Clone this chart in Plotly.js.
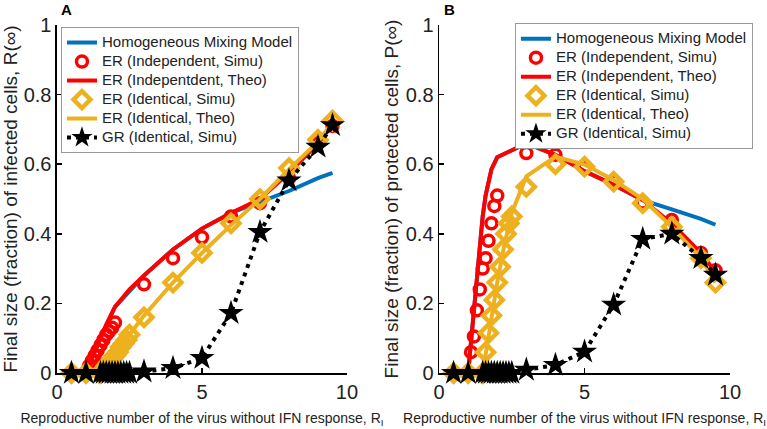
<!DOCTYPE html>
<html>
<head>
<meta charset="utf-8">
<script src="https://cdn.plot.ly/plotly-3.0.1.min.js"></script>
<style>html,body{margin:0;padding:0;background:#fff;}#chart{width:767px;height:429px;}</style>
</head>
<body>
<div id="chart"></div>
<script>
// ---------- Panel A: infected cells R(inf) ----------
const homA_x = [1.0, 1.5, 2.0, 3, 4, 5, 6, 7, 8, 9, 9.5];
const homA_y = [0, 0.10, 0.19, 0.28, 0.355, 0.415, 0.46, 0.49, 0.523, 0.56, 0.575];

const indSimA_x = [0.5, 1.0, 1.1, 1.2, 1.3, 1.4, 1.5, 1.6, 1.7, 1.8, 1.9, 2.0, 3, 4, 5, 6, 7, 8, 9, 9.5];
const indSimA_y = [0, 0, 0.02, 0.035, 0.05, 0.065, 0.08, 0.095, 0.11, 0.12, 0.13, 0.145, 0.255, 0.33, 0.39, 0.45, 0.488, 0.56, 0.66, 0.71];

const indTheoA_x = [1.0, 1.3, 1.5, 1.7, 2.0, 2.5, 3, 4, 5, 6, 7, 8, 9, 9.5];
const indTheoA_y = [0, 0.06, 0.10, 0.14, 0.19, 0.24, 0.28, 0.355, 0.415, 0.46, 0.50, 0.575, 0.66, 0.715];

const idSimA_x = [0.5, 1.0, 1.5, 1.6, 1.7, 1.8, 1.9, 2.0, 2.1, 2.2, 2.3, 2.4, 2.5, 3, 4, 5, 6, 7, 8, 9, 9.5];
const idSimA_y = [0, 0, 0, 0.01, 0.02, 0.03, 0.04, 0.05, 0.06, 0.075, 0.085, 0.095, 0.11, 0.16, 0.26, 0.345, 0.43, 0.50, 0.589, 0.67, 0.725];

const idTheoA_x = [1.4, 2.0, 2.5, 3, 4, 5, 6, 7, 8, 9, 9.5];
const idTheoA_y = [0, 0.06, 0.11, 0.165, 0.26, 0.345, 0.425, 0.50, 0.585, 0.665, 0.72];

const grA_x = [0.5, 1.0, 1.5, 1.6, 1.7, 1.8, 1.9, 2.0, 2.1, 2.2, 2.3, 2.4, 2.5, 3, 4, 5, 6, 7, 8, 9, 9.5];
const grA_y = [0, 0, 0, 0, 0, 0, 0, 0, 0, 0, 0, 0, 0, 0.004, 0.014, 0.043, 0.172, 0.405, 0.553, 0.65, 0.712];

// ---------- Panel B: protected cells P(inf) ----------
const homB_x = [1.0, 1.2, 1.4, 1.5, 1.6, 1.8, 2.0, 3, 4, 5, 6, 7, 8, 9, 9.5];
const homB_y = [0, 0.18, 0.37, 0.45, 0.51, 0.585, 0.62, 0.66, 0.627, 0.58, 0.541, 0.497, 0.47, 0.443, 0.426];

const indSimB_x = [0.5, 1.0, 1.1, 1.2, 1.3, 1.4, 1.5, 1.6, 1.7, 1.8, 1.9, 2.0, 3, 4, 5, 6, 7, 8, 9, 9.5];
const indSimB_y = [0, 0, 0.06, 0.105, 0.18, 0.24, 0.30, 0.33, 0.38, 0.43, 0.48, 0.51, 0.632, 0.627, 0.59, 0.55, 0.49, 0.44, 0.345, 0.295];

const indTheoB_x = [1.0, 1.2, 1.4, 1.5, 1.6, 1.8, 2.0, 3, 4, 5, 6, 7, 8, 9, 9.5];
const indTheoB_y = [0, 0.18, 0.37, 0.45, 0.51, 0.585, 0.62, 0.66, 0.627, 0.58, 0.541, 0.497, 0.43, 0.345, 0.29];

const idSimB_x = [0.5, 1.0, 1.5, 1.6, 1.7, 1.8, 1.9, 2.0, 2.1, 2.2, 2.3, 2.4, 2.5, 3, 4, 5, 6, 7, 8, 9, 9.5];
const idSimB_y = [0, 0, 0, 0.06, 0.115, 0.165, 0.21, 0.26, 0.305, 0.355, 0.40, 0.43, 0.45, 0.535, 0.60, 0.593, 0.55, 0.488, 0.42, 0.33, 0.26];

const idTheoB_x = [1.5, 1.75, 2.0, 2.25, 2.5, 3, 4, 5, 6, 7, 8, 9, 9.5];
const idTheoB_y = [0, 0.13, 0.26, 0.37, 0.46, 0.565, 0.622, 0.599, 0.555, 0.50, 0.42, 0.33, 0.26];

const grB_x = [0.5, 1.0, 1.5, 1.6, 1.7, 1.8, 1.9, 2.0, 2.1, 2.2, 2.3, 2.4, 2.5, 3, 4, 5, 6, 7, 8, 9, 9.5];
const grB_y = [0, 0, 0, 0, 0, 0, 0, 0, 0, 0, 0, 0, 0, 0.009, 0.023, 0.061, 0.196, 0.385, 0.40, 0.33, 0.282];

const namesA = ['Homogeneous Mixing Model', 'ER (Independent, Simu)', 'ER (Indepentdent, Theo)',
                'ER (Identical, Simu)', 'ER (Identical, Theo)', 'GR (Identical, Simu)'];
const namesB = ['Homogeneous Mixing Model', 'ER (Independent, Simu)', 'ER (Independent, Theo)',
                'ER (Identical, Simu)', 'ER (Identical, Theo)', 'GR (Identical, Simu)'];

const BLUE = '#0072BD', RED = '#FF0000', YEL = '#EDB120';
const big = s => '<span style="font-size:15px">' + s + '</span>';

function panel(xa, ya, leg, names, d) {
  return [
    {x: d.hx, y: d.hy, mode: 'lines', name: big(names[0]), line: {color: BLUE, width: 4}},
    {x: d.isx, y: d.isy, mode: 'markers', name: big(names[1]),
     marker: {symbol: 'circle-open', size: 11, color: RED, line: {width: 3.5, color: RED}}},
    {x: d.itx, y: d.ity, mode: 'lines', name: big(names[2]), line: {color: RED, width: 4}},
    {x: d.dsx, y: d.dsy, mode: 'markers', name: big(names[3]),
     marker: {symbol: 'diamond-open', size: 13, color: YEL, line: {width: 4.5, color: YEL}}},
    {x: d.dtx, y: d.dty, mode: 'lines', name: big(names[4]), line: {color: YEL, width: 4}},
    {x: d.gx, y: d.gy, mode: 'lines+markers', name: big(names[5]),
     line: {color: '#000', width: 4, dash: '4px,5px'},
     marker: {symbol: 'star', size: 19, color: '#000', line: {width: 0}}}
  ].map(t => Object.assign(t, {type: 'scatter', xaxis: xa, yaxis: ya, legend: leg, cliponaxis: false}));
}

const traces = [].concat(
  panel('x', 'y', 'legend', namesA, {hx: homA_x, hy: homA_y, isx: indSimA_x, isy: indSimA_y,
    itx: indTheoA_x, ity: indTheoA_y, dsx: idSimA_x, dsy: idSimA_y, dtx: idTheoA_x, dty: idTheoA_y, gx: grA_x, gy: grA_y}),
  panel('x2', 'y2', 'legend2', namesB, {hx: homB_x, hy: homB_y, isx: indSimB_x, isy: indSimB_y,
    itx: indTheoB_x, ity: indTheoB_y, dsx: idSimB_x, dsy: idSimB_y, dtx: idTheoB_x, dty: idTheoB_y, gx: grB_x, gy: grB_y})
);

const FONT = 'Liberation Sans, Arial, sans-serif';
const xTicks = [0, 5, 10];
const yTicks = [0, 0.2, 0.4, 0.6, 0.8, 1];
const yTickText = ['0', '0.2', '0.4', '0.6', '0.8', '1'];

function xax(domain, anchor) {
  return {domain: domain, anchor: anchor, range: [0, 10], tickvals: xTicks, ticks: 'inside', ticklen: 5,
    tickwidth: 1.5, tickcolor: '#000', showline: true, linecolor: '#000', linewidth: 1.5, showgrid: false,
    zeroline: false, tickfont: {family: FONT, size: 20, color: '#222'}, automargin: false,
    title: {text: 'Reproductive number of the virus without IFN response, R<sub>I</sub>',
            font: {family: FONT, size: 14, color: '#222'}, standoff: 11}};
}
function yax(domain, anchor, title) {
  return {domain: domain, anchor: anchor, range: [0, 1], tickvals: yTicks, ticktext: yTickText, ticks: 'inside',
    ticklen: 5, tickwidth: 1.5, tickcolor: '#000', showline: true, linecolor: '#000', linewidth: 1.5,
    showgrid: false, zeroline: false, tickfont: {family: FONT, size: 20, color: '#222'}, automargin: false,
    title: {text: title, font: {family: FONT, size: 19, color: '#222'}, standoff: 2}};
}

const legBase = {bgcolor: '#fff', bordercolor: '#999', borderwidth: 1, font: {family: FONT, size: 12, color: '#222'},
  xanchor: 'left', yanchor: 'top', tracegroupgap: 0, itemwidth: 30};

const layout = {
  width: 767, height: 429, margin: {l: 0, r: 0, t: 0, b: 0},
  paper_bgcolor: '#fff', plot_bgcolor: '#fff', showlegend: true,
  xaxis: xax([0.0743, 0.4524], 'y'),
  yaxis: yax([0.1305, 0.9417], 'x', 'Final size (fraction) of infected cells, R(∞)'),
  xaxis2: xax([0.5724, 0.9518], 'y2'),
  yaxis2: yax([0.1305, 0.9417], 'x2', 'Final size (fraction) of protected cells, P(∞)'),
  legend: Object.assign({x: 0.0795, y: 0.937}, legBase),
  legend2: Object.assign({x: 0.6714, y: 0.946}, legBase),
  annotations: [
    {text: '<b>A</b>', x: 66 / 767, y: 1 - 10 / 429, xref: 'paper', yref: 'paper', showarrow: false,
     font: {family: FONT, size: 15, color: '#000'}, xanchor: 'center', yanchor: 'middle'},
    {text: '<b>B</b>', x: 449 / 767, y: 1 - 10 / 429, xref: 'paper', yref: 'paper', showarrow: false,
     font: {family: FONT, size: 15, color: '#000'}, xanchor: 'center', yanchor: 'middle'}
  ]
};

Plotly.newPlot('chart', traces, layout, {displayModeBar: false, staticPlot: true});
</script>
</body>
</html>
